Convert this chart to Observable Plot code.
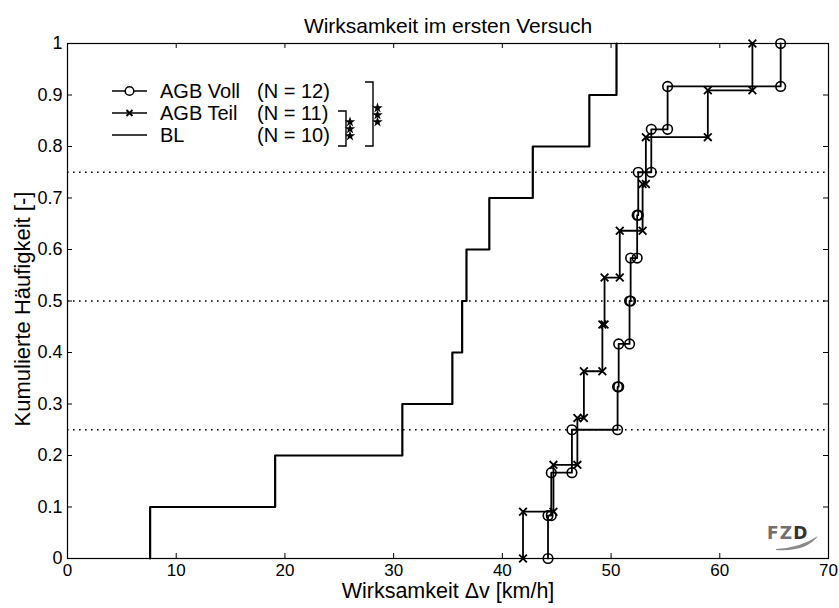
<!DOCTYPE html>
<html>
<head>
<meta charset="utf-8">
<script src="https://cdn.jsdelivr.net/npm/d3@7"></script>
<script src="https://cdn.jsdelivr.net/npm/@observablehq/plot@0.6"></script>
<style>
  html, body { margin: 0; padding: 0; background: #fff; }
  #chart svg { display: block; font-family: "Liberation Sans", Arial, sans-serif; }
</style>
</head>
<body>
<div id="chart"></div>
<script>
// ---- data ----
const agbVoll = [44.2, 44.5, 46.4, 50.6, 50.7, 51.7, 51.8, 52.4, 52.5, 53.7, 55.2, 65.6]; // N = 12
const agbTeil = [41.9, 44.7, 46.9, 47.5, 49.2, 49.4, 50.8, 52.9, 53.2, 58.9, 63.0];       // N = 11
const bl      = [7.6, 19.1, 30.8, 35.4, 36.3, 36.7, 38.8, 42.8, 48.0, 50.5];              // N = 10
const refLevels = [0.25, 0.5, 0.75];
const xTicks = [0, 10, 20, 30, 40, 50, 60, 70];
const yTicks = [0, 0.1, 0.2, 0.3, 0.4, 0.5, 0.6, 0.7, 0.8, 0.9, 1];
const legendLabels = ["AGB Voll", "AGB Teil", "BL"];
const legendCounts = ["(N = 12)", "(N = 11)", "(N = 10)"];
const titleText = "Wirksamkeit im ersten Versuch";
const xLabel = "Wirksamkeit \u0394v [km/h]";
const yLabel = "Kumulierte Häufigkeit [-]";

function stairs(xs) {
  const n = xs.length, pts = [];
  xs.forEach((x, i) => { pts.push({x, y: i / n}); pts.push({x, y: (i + 1) / n}); });
  return pts;
}
const sVoll = stairs(agbVoll), sTeil = stairs(agbTeil), sBL = stairs(bl);

const W = 839, H = 608, mL = 67, mR = 11, mT = 43, mB = 50;
const pw = W - mL - mR, ph = H - mT - mB;
const FONT = "Liberation Sans, Arial, sans-serif";

const chart = Plot.plot({
  width: W, height: H,
  marginLeft: mL, marginRight: mR, marginTop: mT, marginBottom: mB,
  style: {fontFamily: FONT, fontSize: "18px", color: "#000", background: "#fff", overflow: "visible"},
  x: {domain: [0, 70]},
  y: {domain: [0, 1]},
  marks: [
    Plot.ruleY(refLevels, {stroke: "#000", strokeWidth: 1.6, strokeDasharray: "1.6,4.4"}),
    // inward ticks on all four sides
    Plot.tickX(xTicks, {x: d => d, insetTop: ph - 5, strokeWidth: 1}),
    Plot.tickX(xTicks, {x: d => d, insetBottom: ph - 5, strokeWidth: 1}),
    Plot.tickY(yTicks, {y: d => d, insetRight: pw - 5, strokeWidth: 1}),
    Plot.tickY(yTicks, {y: d => d, insetLeft: pw - 5, strokeWidth: 1}),
    Plot.axisX({ticks: xTicks, tickSize: 0, tickPadding: 5, label: null, fontSize: 17}),
    Plot.axisY({ticks: yTicks, tickSize: 0, tickPadding: 5, label: null, fontSize: 18, tickFormat: d3.format("")}),
    Plot.line(sBL, {x: "x", y: "y", stroke: "#000", strokeWidth: 2.2}),
    Plot.line(sTeil, {x: "x", y: "y", stroke: "#000", strokeWidth: 1.8}),
    Plot.line(sVoll, {x: "x", y: "y", stroke: "#000", strokeWidth: 1.8}),
    Plot.dot(sTeil, {x: "x", y: "y", symbol: "times", r: 3.6, stroke: "#000", strokeWidth: 1.8}),
    Plot.dot(sVoll, {x: "x", y: "y", symbol: "circle", r: 4.8, stroke: "#000", fill: "none", strokeWidth: 1.6}),
    Plot.frame({stroke: "#000", strokeWidth: 1.2}),
    Plot.text([titleText], {frameAnchor: "top", dy: -25, fontSize: 21, fill: "#000"}),
    Plot.text([xLabel], {frameAnchor: "bottom", dy: 39, fontSize: 21.5, fill: "#000"}),
    Plot.text([yLabel], {frameAnchor: "left", textAnchor: "middle", dx: -45, dy: 8, rotate: -90, fontSize: 22, fill: "#000"})
  ]
});

document.getElementById("chart").appendChild(chart);

// ---- legend (decoration inside the axes box) ----
const svg = d3.select(chart);
const leg = svg.append("g").attr("font-family", FONT).style("font-size", "20px").attr("text-anchor", "start");
const rowY = [91, 113, 135];
legendLabels.forEach((lab, i) => {
  const y = rowY[i];
  leg.append("line").attr("x1", 112).attr("x2", 147).attr("y1", y).attr("y2", y)
    .attr("stroke", "#000").attr("stroke-width", 1.6);
  if (i === 0) leg.append("circle").attr("cx", 129.5).attr("cy", y).attr("r", 4.3)
    .attr("fill", "#fff").attr("stroke", "#000").attr("stroke-width", 1.5);
  if (i === 1) leg.append("path").attr("transform", `translate(129.5,${y})`)
    .attr("d", "M-3,-3L3,3M-3,3L3,-3").attr("stroke", "#000").attr("stroke-width", 1.8);
  leg.append("text").attr("x", 160).attr("y", y).attr("dy", "0.36em").attr("text-anchor", "start").text(lab);
  leg.append("text").attr("x", 257).attr("y", y).attr("dy", "0.36em").attr("text-anchor", "start").text(legendCounts[i]);
});
// significance brackets
const bracket = (x, y1, y2) => leg.append("path")
  .attr("d", `M${x - 8},${y1}H${x}V${y2}H${x - 8}`)
  .attr("fill", "none").attr("stroke", "#000").attr("stroke-width", 1.4);
bracket(346, 111, 146);
bracket(373, 82, 146);
const star = d3.symbol(d3.symbolStar, 34)();
[[350, 122], [350, 129], [350, 136], [377.5, 108], [377.5, 115], [377.5, 122]].forEach(([x, y]) =>
  leg.append("path").attr("d", star).attr("transform", `translate(${x},${y})`).attr("fill", "#000"));

// ---- FZD logo ----
const logo = svg.append("text").attr("x", 767).attr("y", 539).attr("text-anchor", "start")
  .attr("font-family", "DejaVu Sans, sans-serif").attr("font-weight", "bold").style("font-size", "17px")
  .attr("letter-spacing", 1.2);
logo.append("tspan").attr("fill", "#707070").text("FZ");
logo.append("tspan").attr("fill", "#333").text("D");
svg.append("path").attr("d", "M776,549 Q800,548 818,536 Q806,552 776,550 Z").attr("fill", "#8a8a8a");
</script>
</body>
</html>
